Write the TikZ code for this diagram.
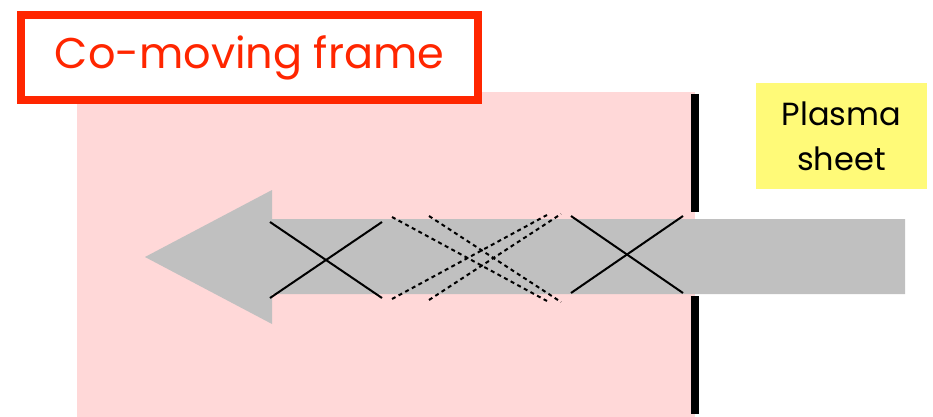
\documentclass[tikz,border=0pt]{standalone}
\usepackage{fontspec}
\setmainfont{Poppins}
\definecolor{framepink}{RGB}{255,216,216}
\definecolor{arrowgray}{RGB}{192,192,192}
\definecolor{labelred}{RGB}{255,38,0}
\definecolor{sheetyellow}{RGB}{255,250,120}
\begin{document}
\begin{tikzpicture}[x=1pt,y=-1pt,
  solidcross/.style={line width=2pt,black},
  dashcross/.style={line width=2pt,black,dash pattern=on 4pt off 3.5pt},
  barline/.style={line width=7.5pt,black},
  labelbox/.style={draw=labelred,line width=8pt,fill=white,minimum width=457pt,minimum height=85pt,inner sep=0pt},
  sheetbox/.style={fill=sheetyellow,minimum width=171pt,minimum height=106pt,inner sep=0pt,align=center}]
\useasboundingbox (0,0) rectangle (933,417);
% co-moving frame region
\fill[framepink] (77,92) rectangle (695,417);
% gray arrow
\fill[arrowgray] (905,219) -- (272,219) -- (272,190) -- (145,257) -- (272,324) -- (272,294) -- (905,294) -- cycle;
% plasma sheet bars
\coordinate (b1t) at (695,94);
\coordinate (b1b) at (695,212);
\coordinate (b2t) at (695,296);
\coordinate (b2b) at (695,414);
\draw[barline] (b1t) -- (b1b);
\draw[barline] (b2t) -- (b2b);
% solid crosses
\coordinate (s1a) at (270,222); \coordinate (s1b) at (382,298);
\coordinate (s1c) at (270,298); \coordinate (s1d) at (382,222);
\draw[solidcross] (s1a) -- (s1b);
\draw[solidcross] (s1c) -- (s1d);
\coordinate (s2a) at (571,216); \coordinate (s2b) at (683,293);
\coordinate (s2c) at (571,293); \coordinate (s2d) at (683,216);
\draw[solidcross] (s2a) -- (s2b);
\draw[solidcross] (s2c) -- (s2d);
% dashed crosses
\coordinate (d1a) at (392,217); \coordinate (d1b) at (547,301);
\coordinate (d1c) at (392,299); \coordinate (d1d) at (547,215);
\draw[dashcross] (d1a) -- (d1b);
\draw[dashcross] (d1c) -- (d1d);
\coordinate (d2a) at (429,216); \coordinate (d2b) at (561,302);
\coordinate (d2c) at (429,300); \coordinate (d2d) at (561,214);
\draw[dashcross] (d2a) -- (d2b);
\draw[dashcross] (d2c) -- (d2d);
% labels
\node[labelbox,font=\fontsize{43}{47}\selectfont,text=labelred] (frame) at (249.5,57.5) {Co-moving frame};
\node[sheetbox,font=\fontsize{32}{45}\selectfont] (sheet) at (841.5,136) {Plasma\\sheet};
\end{tikzpicture}
\end{document}
